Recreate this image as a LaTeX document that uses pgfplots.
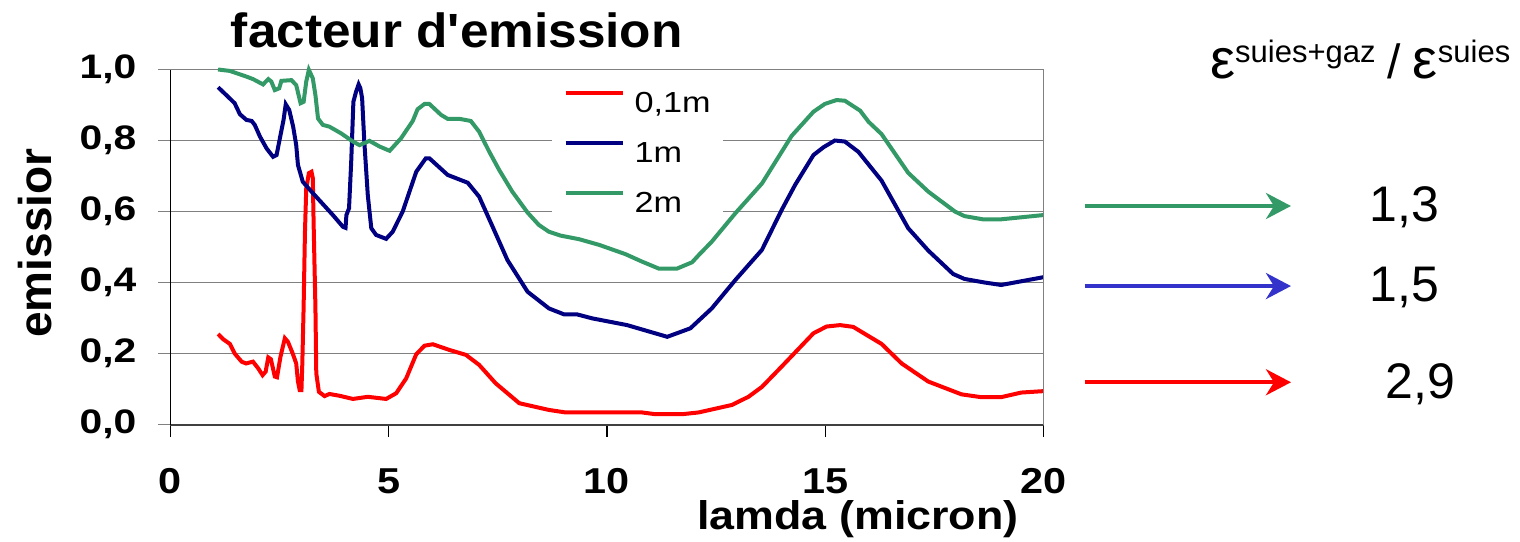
\documentclass[border=0pt]{standalone}
\usepackage{pgfplots}
\pgfplotsset{compat=1.18}
\usetikzlibrary{arrows.meta}
\usepackage{fontspec}
\setmainfont{Liberation Sans}
\newfontfamily\titlefont[FakeStretch=1.07,Ligatures=TeXOff]{Liberation Sans Bold}
\newfontfamily\xlabfont[FakeStretch=1.12]{Liberation Sans Bold}
\newfontfamily\ylabfont{Liberation Sans Bold}
\newfontfamily\ytfont[FakeStretch=1.2]{Liberation Sans Bold}
\newfontfamily\xtfont[FakeStretch=1.15]{Liberation Sans Bold}
\newfontfamily\legfont[FakeStretch=1.18]{Liberation Sans}
\definecolor{cgreen}{RGB}{51,153,102}
\definecolor{cnavy}{RGB}{0,0,128}
\definecolor{cred}{RGB}{255,0,0}
\definecolor{cblue}{RGB}{51,51,204}
\definecolor{cgrid}{RGB}{128,128,128}
\begin{document}
\begin{tikzpicture}
\useasboundingbox (-85.25pt,-58.25pt) rectangle (674.75pt,212.25pt);
\begin{axis}[
  at={(0,0)}, anchor=south west,
  scale only axis, width=436.5pt, height=177.5pt,
  xmin=0, xmax=20, ymin=0, ymax=1,
  xtick={0,5,10,15,20}, ytick={0,0.2,0.4,0.6,0.8,1.0},
  ymajorgrids, major grid style={cgrid, line width=0.8pt},
  axis x line*=bottom, axis y line*=left,
  x axis line style={-, line width=1pt, draw=black!75},
  y axis line style={-, line width=0.6pt, draw=black},
  tick align=outside,
  major tick length=6pt,
  xtick style={black, line width=0.6pt},
  ytick style={cgrid, line width=0.8pt},
  /pgf/number format/assume math mode=true,
  yticklabel style={font=\ytfont\fontsize{17}{17}\selectfont, anchor=east, xshift=-7.5pt,
     /pgf/number format/.cd, fixed, fixed zerofill, precision=1, use comma},
  xticklabel style={font=\xtfont\fontsize{18}{18}\selectfont, anchor=north, yshift=-12.5pt, text depth=0pt},
  clip=false,
  legend style={at={(axis cs:8.72,0.97)}, anchor=north west, draw=none, fill=white,
     inner xsep=6pt, inner ysep=5pt, row sep=14pt, column sep=5pt,
     font=\legfont\fontsize{14.5}{14.5}\selectfont,
     nodes={inner sep=0pt, text height=10pt, text depth=0pt}},
  legend cell align=left,
  legend image code/.code={\draw[#1] (0pt,5pt) -- (28.5pt,5pt);},
]
\addplot[cred, line width=2pt] coordinates {
(1.09,0.255)(1.21,0.24)(1.36,0.227)(1.47,0.2)(1.63,0.177)(1.73,0.172)(1.89,0.177)(2.01,0.158)(2.11,0.139)(2.18,0.149)(2.24,0.189)(2.3,0.184)(2.39,0.135)(2.44,0.133)(2.52,0.191)(2.62,0.243)(2.69,0.233)(2.8,0.2)(2.88,0.172)(2.92,0.121)(2.96,0.097)(3.0,0.097)(3.02,0.172)(3.05,0.332)(3.08,0.54)(3.11,0.665)(3.17,0.708)(3.23,0.712)(3.26,0.694)(3.28,0.56)(3.3,0.445)(3.32,0.332)(3.34,0.144)(3.4,0.092)(3.53,0.08)(3.64,0.086)(3.87,0.081)(4.18,0.072)(4.52,0.078)(4.94,0.072)(5.17,0.088)(5.4,0.13)(5.63,0.198)(5.82,0.222)(6.01,0.226)(6.39,0.21)(6.77,0.196)(7.07,0.168)(7.45,0.116)(7.99,0.06)(8.67,0.041)(9.05,0.034)(10.8,0.034)(11.11,0.029)(11.72,0.029)(12.1,0.034)(12.86,0.055)(13.24,0.078)(13.55,0.106)(14.0,0.163)(14.73,0.257)(15.03,0.276)(15.34,0.28)(15.64,0.275)(16.29,0.227)(16.75,0.172)(17.36,0.121)(18.12,0.085)(18.57,0.077)(19.03,0.077)(19.49,0.09)(20.0,0.094)
};
\addlegendentry{0,1m}
\addplot[cnavy, line width=2pt] coordinates {
(1.09,0.95)(1.32,0.923)(1.47,0.905)(1.59,0.874)(1.74,0.858)(1.86,0.855)(1.93,0.844)(2.05,0.811)(2.2,0.778)(2.35,0.754)(2.43,0.759)(2.52,0.815)(2.59,0.858)(2.64,0.902)(2.72,0.886)(2.81,0.839)(2.88,0.787)(2.92,0.731)(3.03,0.684)(3.23,0.656)(3.72,0.59)(3.95,0.557)(4.01,0.554)(4.03,0.59)(4.09,0.609)(4.14,0.74)(4.19,0.909)(4.25,0.937)(4.31,0.958)(4.35,0.947)(4.39,0.919)(4.44,0.797)(4.52,0.646)(4.6,0.553)(4.71,0.534)(4.94,0.523)(5.09,0.543)(5.32,0.6)(5.63,0.712)(5.85,0.75)(5.93,0.75)(6.35,0.703)(6.81,0.681)(7.07,0.642)(7.38,0.557)(7.72,0.463)(8.18,0.374)(8.67,0.327)(9.02,0.31)(9.32,0.31)(9.66,0.299)(10.46,0.28)(11.38,0.247)(11.91,0.271)(12.4,0.327)(12.94,0.407)(13.55,0.492)(14.0,0.604)(14.31,0.675)(14.73,0.759)(14.96,0.781)(15.22,0.8)(15.45,0.797)(15.76,0.768)(16.29,0.687)(16.9,0.553)(17.36,0.49)(17.93,0.424)(18.19,0.41)(18.65,0.4)(19.03,0.393)(20.0,0.415)
};
\addlegendentry{1m}
\addplot[cgreen, line width=2pt] coordinates {
(1.09,1.0)(1.36,0.996)(1.74,0.98)(1.89,0.973)(2.12,0.958)(2.24,0.973)(2.31,0.966)(2.39,0.942)(2.49,0.947)(2.54,0.968)(2.77,0.97)(2.88,0.956)(2.98,0.905)(3.05,0.909)(3.11,0.966)(3.17,0.999)(3.26,0.975)(3.32,0.928)(3.38,0.862)(3.49,0.844)(3.64,0.839)(3.91,0.82)(4.18,0.797)(4.33,0.787)(4.56,0.799)(4.79,0.783)(5.02,0.771)(5.28,0.806)(5.55,0.855)(5.66,0.888)(5.82,0.903)(5.93,0.903)(6.2,0.872)(6.35,0.861)(6.62,0.861)(6.88,0.855)(7.07,0.825)(7.3,0.769)(7.53,0.717)(7.83,0.656)(8.18,0.597)(8.44,0.562)(8.67,0.543)(8.94,0.532)(9.36,0.522)(9.82,0.506)(10.42,0.48)(10.8,0.459)(11.19,0.439)(11.6,0.439)(11.95,0.457)(12.1,0.477)(12.4,0.515)(12.94,0.595)(13.55,0.679)(14.23,0.813)(14.73,0.881)(14.99,0.903)(15.26,0.914)(15.45,0.912)(15.8,0.884)(15.99,0.853)(16.29,0.818)(16.9,0.709)(17.36,0.656)(17.97,0.6)(18.19,0.587)(18.61,0.578)(19.03,0.578)(20.0,0.59)
};
\addlegendentry{2m}
% plot-area right border
\draw[cgrid, line width=0.8pt] (rel axis cs:1,0) -- (rel axis cs:1,1);
% title and axis labels
\node[anchor=base, font=\titlefont\fontsize{24}{24}\selectfont] at (axis cs:6.56,1.063) {facteur d'emission};
\node[anchor=base, font=\xlabfont\fontsize{20}{20}\selectfont] at (axis cs:15.75,-0.297) {lamda (micron)};
\node[rotate=90, font=\ylabfont\fontsize{23}{23}\selectfont] at (axis cs:-3.104,0.511) {emissior};
% ratio annotations
\draw[cgreen, line width=2pt, -{Stealth[length=12.5pt,width=13pt,inset=4pt]}] (axis cs:20.94,0.6155) -- (axis cs:25.67,0.6155);
\draw[cblue, line width=2pt, -{Stealth[length=12.5pt,width=13pt,inset=4pt]}] (axis cs:20.94,0.39) -- (axis cs:25.67,0.39);
\draw[cred, line width=2pt, -{Stealth[length=12.5pt,width=13pt,inset=4pt]}] (axis cs:20.94,0.119) -- (axis cs:25.67,0.119);
\node[anchor=base, font=\fontsize{25}{25}\selectfont] at (axis cs:28.26,0.571) {1,3};
\node[anchor=base, font=\fontsize{25}{25}\selectfont] at (axis cs:28.26,0.346) {1,5};
\node[anchor=base, font=\fontsize{25}{25}\selectfont] at (axis cs:28.64,0.0738) {2,9};
\node[anchor=base west, inner sep=0pt] at (axis cs:23.81,0.976) {{\fontsize{28}{28}\selectfont ε}\raisebox{8pt}{\fontsize{15.5}{15.5}\selectfont suies+gaz}\hspace{6pt}{\fontsize{24}{24}\selectfont /}\hspace{6pt}{\fontsize{28}{28}\selectfont ε}\raisebox{8pt}{\fontsize{15.5}{15.5}\selectfont suies}};
\end{axis}
\end{tikzpicture}
\end{document}
